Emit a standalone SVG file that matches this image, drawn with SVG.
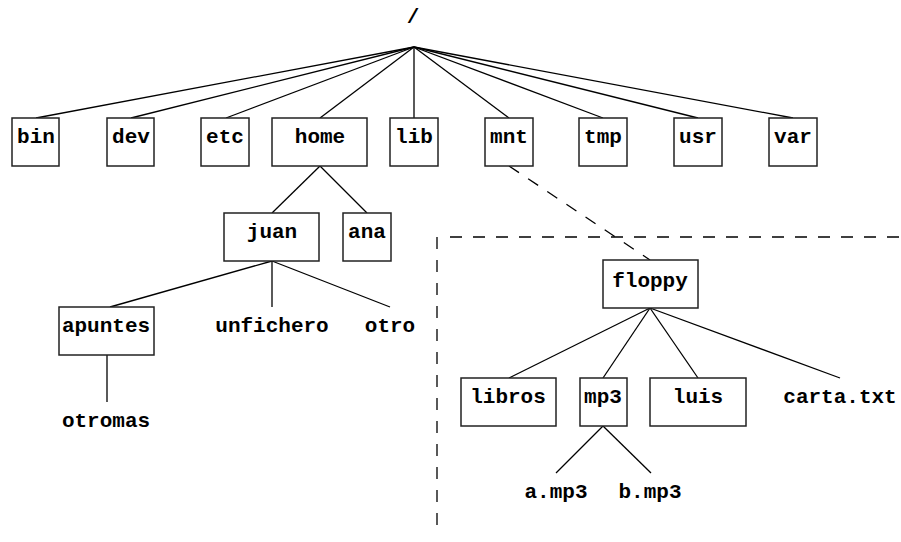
<svg xmlns="http://www.w3.org/2000/svg" width="901" height="542" viewBox="0 0 901 542">
  <style>
    .box { fill: #fff; stroke: #222; stroke-width: 1.5; }
    .edge { stroke: #000; stroke-width: 1.3; fill: none; }
    .dash { stroke: #000; stroke-width: 1.3; fill: none; stroke-dasharray: 12 11; }
    text { font-family: "Liberation Mono", "Courier New", monospace; font-weight: bold; font-size: 21px; fill: #000; text-anchor: middle; }
  </style>
  <rect width="901" height="542" fill="#fff"/>

  <g id="connectors">
    <!-- root fan-out -->
    <line class="edge" x1="414" y1="47" x2="36" y2="118"/>
    <line class="edge" x1="414" y1="47" x2="131" y2="118"/>
    <line class="edge" x1="414" y1="47" x2="226" y2="118"/>
    <line class="edge" x1="414" y1="47" x2="320" y2="118"/>
    <line class="edge" x1="414" y1="47" x2="414" y2="118"/>
    <line class="edge" x1="414" y1="47" x2="509" y2="118"/>
    <line class="edge" x1="414" y1="47" x2="603" y2="118"/>
    <line class="edge" x1="414" y1="47" x2="698" y2="118"/>
    <line class="edge" x1="414" y1="47" x2="793" y2="118"/>
    <!-- home -->
    <line class="edge" x1="320" y1="166" x2="272" y2="213"/>
    <line class="edge" x1="320" y1="166" x2="367" y2="213"/>
    <!-- juan -->
    <line class="edge" x1="272" y1="261" x2="110" y2="307"/>
    <line class="edge" x1="272" y1="261" x2="272" y2="307"/>
    <line class="edge" x1="272" y1="261" x2="390" y2="307"/>
    <!-- apuntes -->
    <line class="edge" x1="107" y1="355" x2="107" y2="402"/>
    <!-- mount point -->
    <line class="dash" x1="509" y1="166" x2="650" y2="260"/>
    <line class="dash" x1="450" y1="237" x2="901" y2="237"/>
    <line class="dash" x1="437" y1="237" x2="437" y2="533"/>
    <!-- floppy -->
    <line class="edge" x1="650" y1="308" x2="509" y2="378"/>
    <line class="edge" x1="650" y1="308" x2="603" y2="378"/>
    <line class="edge" x1="650" y1="308" x2="698" y2="378"/>
    <line class="edge" x1="650" y1="308" x2="840" y2="378"/>
    <!-- mp3 -->
    <line class="edge" x1="603" y1="426" x2="556" y2="473"/>
    <line class="edge" x1="603" y1="426" x2="651" y2="473"/>
  </g>

  <g id="root"><text x="413" y="23">/</text></g>

  <g id="bin"><rect class="box" x="12" y="118" width="47" height="48"/><text x="36" y="143">bin</text></g>
  <g id="dev"><rect class="box" x="107" y="118" width="47" height="48"/><text x="131" y="143">dev</text></g>
  <g id="etc"><rect class="box" x="201" y="118" width="48" height="48"/><text x="225" y="143">etc</text></g>
  <g id="home"><rect class="box" x="272" y="118" width="95" height="48"/><text x="320" y="143">home</text></g>
  <g id="lib"><rect class="box" x="390" y="118" width="48" height="48"/><text x="414" y="143">lib</text></g>
  <g id="mnt"><rect class="box" x="485" y="118" width="48" height="48"/><text x="509" y="143">mnt</text></g>
  <g id="tmp"><rect class="box" x="579" y="118" width="48" height="48"/><text x="603" y="143">tmp</text></g>
  <g id="usr"><rect class="box" x="674" y="118" width="48" height="48"/><text x="698" y="143">usr</text></g>
  <g id="var"><rect class="box" x="769" y="118" width="48" height="48"/><text x="793" y="143">var</text></g>

  <g id="juan"><rect class="box" x="224" y="213" width="95" height="48"/><text x="272" y="238">juan</text></g>
  <g id="ana"><rect class="box" x="343" y="213" width="48" height="48"/><text x="367" y="238">ana</text></g>

  <g id="apuntes"><rect class="box" x="59" y="307" width="95" height="48"/><text x="106" y="332">apuntes</text></g>
  <g id="unfichero"><text x="272" y="332">unfichero</text></g>
  <g id="otro"><text x="390" y="332">otro</text></g>
  <g id="otromas"><text x="106" y="427">otromas</text></g>

  <g id="floppy"><rect class="box" x="603" y="260" width="95" height="48"/><text x="650" y="287">floppy</text></g>

  <g id="libros"><rect class="box" x="461" y="378" width="95" height="48"/><text x="508" y="403">libros</text></g>
  <g id="mp3"><rect class="box" x="580" y="378" width="47" height="48"/><text x="603" y="403">mp3</text></g>
  <g id="luis"><rect class="box" x="650" y="378" width="96" height="48"/><text x="698" y="403">luis</text></g>
  <g id="carta"><text x="840" y="403">carta.txt</text></g>

  <g id="a-mp3"><text x="556" y="498">a.mp3</text></g>
  <g id="b-mp3"><text x="650" y="498">b.mp3</text></g>
</svg>
